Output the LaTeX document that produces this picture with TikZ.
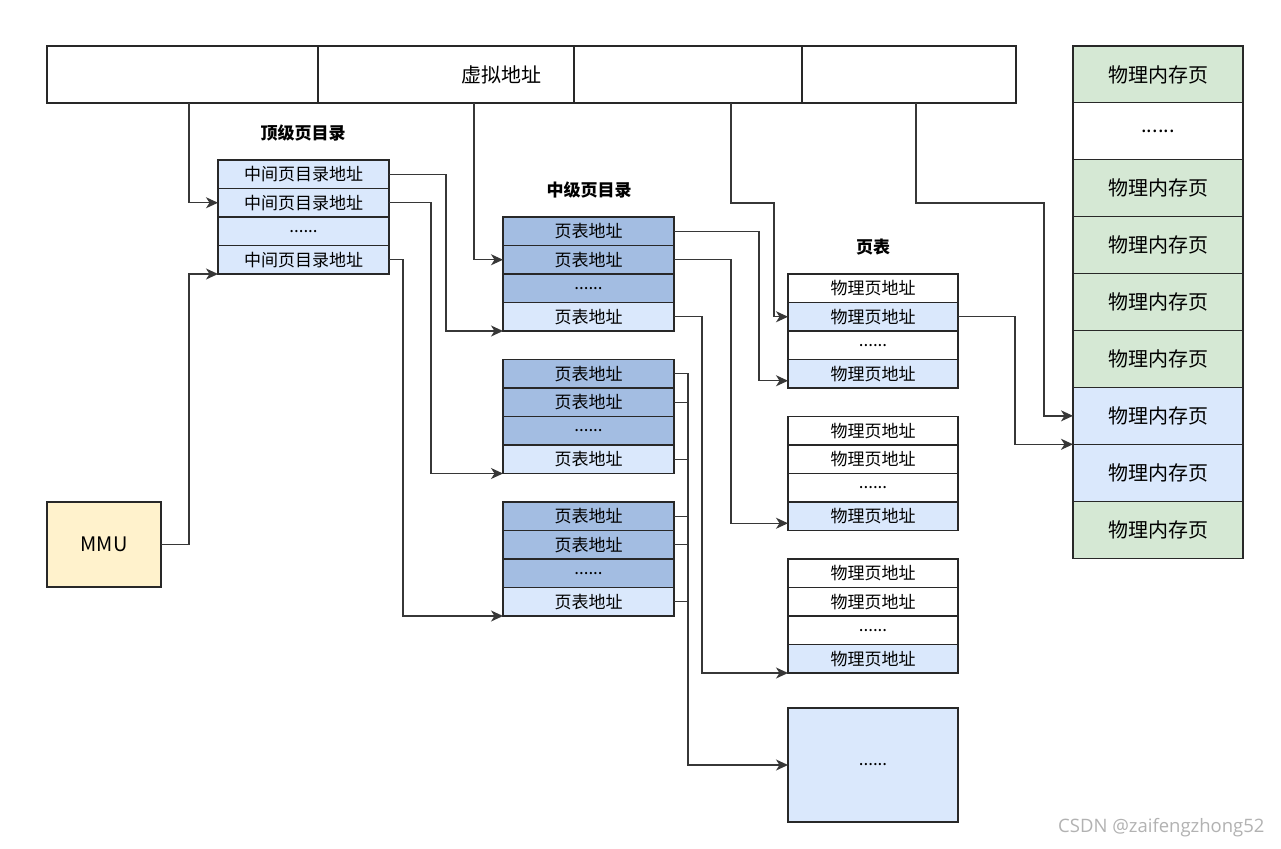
\documentclass[tikz,border=0pt]{standalone}
\usepackage{fontspec}
\setmainfont{Noto Sans CJK SC}
\newfontfamily\markfont{Open Sans}
\usepackage{xcolor}
\usetikzlibrary{positioning,arrows.meta}
\definecolor{CellBlue}{RGB}{218,232,252}
\definecolor{CellDark}{RGB}{163,189,226}
\definecolor{CellGreen}{RGB}{213,232,212}
\definecolor{CellYellow}{RGB}{255,242,204}
\definecolor{EdgeGray}{RGB}{40,40,40}
\definecolor{WireGray}{RGB}{55,55,55}

\begin{document}
\begin{tikzpicture}[x=1pt, y=-1pt, node distance=0pt, >={Stealth[length=12pt, width=11pt, inset=3.5pt]}]
      \tikzset{
        cell/.style={draw=EdgeGray, line width=1.1pt, fill=white, minimum width=171pt, minimum height=28.5pt, inner sep=0pt, outer sep=0pt, font=\fontsize{17}{20}\selectfont},
        bluecell/.style={cell, fill=CellBlue},
        darkcell/.style={cell, fill=CellDark},
        pagecell/.style={cell, minimum width=170pt},
        memcell/.style={cell, minimum width=170pt, minimum height=56.9pt, fill=CellGreen, font=\fontsize{20}{24}\selectfont},
        segcell/.style={cell, minimum height=57pt},
        title/.style={font=\bfseries\fontsize{17}{20}\selectfont},
        wire/.style={draw=WireGray, line width=1.3pt},
        arrow/.style={->, wire}
      }
      \useasboundingbox (0,0) rectangle (1281,848);
      \fill[white] (0,0) rectangle (1281,848);

      % virtual address
      \node[segcell, minimum width=271pt, anchor=north west] (seg1) at (47,46) {};
      \node[segcell, minimum width=256pt, right=of seg1] (seg2) {};
      \node[segcell, minimum width=228pt, right=of seg2] (seg3) {};
      \node[segcell, minimum width=214pt, right=of seg3] (seg4) {};
      \node[font=\fontsize{20}{24}\selectfont] (vaddr) at ([xshift=55pt]seg2.center) {虚拟地址};

      % top level directory
      \node[title] (tdtitle) at (303,133) {顶级页目录};
      \node[bluecell, anchor=north west] (td1) at (218,160) {中间页目录地址};
      \node[bluecell, below=of td1] (td2) {中间页目录地址};
      \node[bluecell, below=of td2] (td3) {......};
      \node[bluecell, below=of td3] (td4) {中间页目录地址};

      % middle directories
      \node[title] (mdtitle) at (589,190) {中级页目录};
      \node[darkcell, anchor=north west] (m1a) at (503,217) {页表地址};
      \node[darkcell, below=of m1a] (m1b) {页表地址};
      \node[darkcell, below=of m1b] (m1c) {......};
      \node[bluecell, below=of m1c] (m1d) {页表地址};

      \node[darkcell, anchor=north west] (m2a) at (503,359.5) {页表地址};
      \node[darkcell, below=of m2a] (m2b) {页表地址};
      \node[darkcell, below=of m2b] (m2c) {......};
      \node[bluecell, below=of m2c] (m2d) {页表地址};

      \node[darkcell, anchor=north west] (m3a) at (503,502) {页表地址};
      \node[darkcell, below=of m3a] (m3b) {页表地址};
      \node[darkcell, below=of m3b] (m3c) {......};
      \node[bluecell, below=of m3c] (m3d) {页表地址};

      % page tables
      \node[title] (pttitle) at (873,247) {页表};
      \node[pagecell, anchor=north west] (p1a) at (788,274) {物理页地址};
      \node[pagecell, fill=CellBlue, below=of p1a] (p1b) {物理页地址};
      \node[pagecell, below=of p1b] (p1c) {......};
      \node[pagecell, fill=CellBlue, below=of p1c] (p1d) {物理页地址};

      \node[pagecell, anchor=north west] (p2a) at (788,416.5) {物理页地址};
      \node[pagecell, below=of p2a] (p2b) {物理页地址};
      \node[pagecell, below=of p2b] (p2c) {......};
      \node[pagecell, fill=CellBlue, below=of p2c] (p2d) {物理页地址};

      \node[pagecell, anchor=north west] (p3a) at (788,559) {物理页地址};
      \node[pagecell, below=of p3a] (p3b) {物理页地址};
      \node[pagecell, below=of p3b] (p3c) {......};
      \node[pagecell, fill=CellBlue, below=of p3c] (p3d) {物理页地址};

      \node[pagecell, fill=CellBlue, minimum height=114pt, anchor=north west] (ptmore) at (788,708) {......};

      % physical memory
      \node[memcell, anchor=north west] (pm1) at (1073,46) {物理内存页};
      \node[memcell, fill=white, below=of pm1] (pm2) {......};
      \node[memcell, below=of pm2] (pm3) {物理内存页};
      \node[memcell, below=of pm3] (pm4) {物理内存页};
      \node[memcell, below=of pm4] (pm5) {物理内存页};
      \node[memcell, below=of pm5] (pm6) {物理内存页};
      \node[memcell, fill=CellBlue, below=of pm6] (pm7) {物理内存页};
      \node[memcell, fill=CellBlue, below=of pm7] (pm8) {物理内存页};
      \node[memcell, below=of pm8] (pm9) {物理内存页};

      \node[cell, fill=CellYellow, minimum width=114pt, minimum height=85pt, anchor=north west, font=\fontsize{20}{24}\selectfont] (mmu) at (47,502) {MMU};

      \node[text=black!30, font=\markfont\fontsize{18.5}{22}\selectfont, anchor=east] (mark) at (1268,828) {CSDN @zaifengzhong52};

      % index bits
      \draw[arrow] ([xshift=6.5pt]seg1.south) |- (td2.west);
      \draw[arrow] ([xshift=28pt]seg2.south) |- (m1b.west);
      \draw[arrow] ([xshift=43pt]seg3.south) -- ++(0,100) -- ++(43,0) |- (p1b.west);
      \draw[arrow] ([xshift=7pt]seg4.south) -- ++(0,100) -- ++(128,0) |- (pm7.west);
      \draw[arrow] (mmu.east) -- ++(28,0) |- (td4.south west);

      % top level -> middle
      \draw[arrow] (td1.east) -- ++(57,0) |- (m1d.south west);
      \draw[arrow] (td2.east) -- ++(42,0) |- (m2d.south west);
      \draw[arrow] (td4.east) -- ++(14,0) |- (m3d.south west);

      % middle -> page tables
      \draw[arrow] (m1a.east) -- ++(85,0) |- ([yshift=-7pt]p1d.west);
      \draw[arrow] (m1b.east) -- ++(57,0) |- ([yshift=-7pt]p2d.west);
      \draw[arrow] (m1d.east) -- ++(28,0) |- (p3d.south west);

      \coordinate (bus) at ([xshift=14pt]m2a.east);
      \draw[arrow] (m2a.east) -- (bus) |- (ptmore.west);
      \draw[wire] (m2b.east) -- (m2b.east -| bus);
      \draw[wire] (m2d.east) -- (m2d.east -| bus);
      \draw[wire] (m3a.east) -- (m3a.east -| bus);
      \draw[wire] (m3b.east) -- (m3b.east -| bus);
      \draw[wire] (m3d.east) -- (m3d.east -| bus);

      % page table -> memory
      \draw[arrow] (p1b.east) -- ++(57,0) |- (pm7.south west);
    \end{tikzpicture}
\end{document}
